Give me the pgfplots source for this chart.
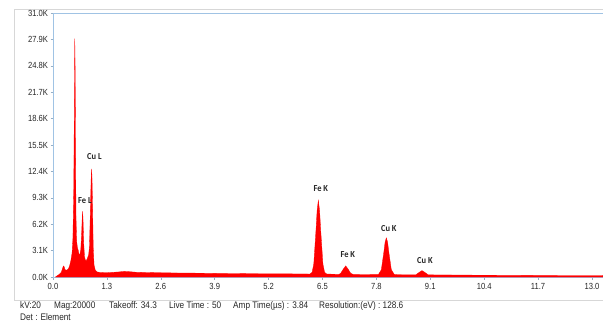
\documentclass[border=0pt]{standalone}
\usepackage{fontspec}
\setmainfont{Liberation Sans}[FakeStretch=0.86]
\newfontfamily\lab{Carlito}[FakeStretch=0.92]
\usepackage{pgfplots}
\pgfplotsset{compat=1.18}
\definecolor{axblue}{RGB}{160,195,228}
\definecolor{frm}{RGB}{215,215,215}
\begin{document}
\begin{tikzpicture}[x=1bp,y=1bp]
\useasboundingbox (0,0) rectangle (603,321);
\draw[frm, line width=0.9bp] (14,21) -- (14,311.5) -- (640,311.5);
\draw[frm, line width=0.9bp] (14,21) -- (640,21);
\begin{axis}[
  at={(53bp,44bp)}, anchor=south west,
  scale only axis, width=559.7bp, height=264bp,
  xmin=0, xmax=13.5, ymin=0, ymax=31,
  axis line style={axblue, line width=0.8bp},
  axis x line*=bottom, axis y line*=left,
  /pgf/number format/assume math mode=true,
  xtick={0,1.3,2.6,3.9,5.2,6.5,7.8,9.1,10.4,11.7,13.0},
  xticklabels={0.0,1.3,2.6,3.9,5.2,6.5,7.8,9.1,10.4,11.7,13.0},
  ytick={0,3.1,6.2,9.3,12.4,15.5,18.6,21.7,24.8,27.9,31.0},
  yticklabels={0.0K,3.1K,6.2K,9.3K,12.4K,15.5K,18.6K,21.7K,24.8K,27.9K,31.0K},
  tick align=outside, major tick length=2.5bp,
  tick style={axblue!70!gray, line width=0.5bp},
  ticklabel style={font=\fontsize{8.9}{10}\selectfont, text=black!85},
  yticklabel style={xshift=1bp},
  clip=false,
]
\draw[axblue, line width=0.8bp] (axis cs:0,31) -- (axis cs:13.5,31);
\addplot[draw=red, fill=red, line width=0.3bp] coordinates {
(0.06,0) (0.10,0.15) (0.15,0.30) (0.20,0.55) (0.23,1.0) (0.25,1.3) (0.27,1.2) (0.29,0.85)
(0.33,0.8) (0.37,0.95) (0.40,1.3) (0.43,1.9) (0.46,2.8) (0.48,4.5) (0.50,10) (0.515,20)
(0.525,28.0) (0.535,24) (0.545,14) (0.555,7) (0.57,4.2) (0.59,3.4) (0.61,3.1) (0.63,2.6)
(0.65,2.7) (0.67,3.2) (0.69,5.0) (0.705,7.0) (0.715,7.7) (0.725,6.6) (0.74,4.0) (0.76,2.4)
(0.78,2.0) (0.80,1.9) (0.83,2.2) (0.86,2.6) (0.88,3.6) (0.90,7.5) (0.92,11.5) (0.93,12.7)
(0.94,11.8) (0.955,8.0) (0.97,3.5) (0.99,1.4) (1.02,0.8) (1.06,0.6) (1.15,0.52) (1.3,0.5)
(1.45,0.55) (1.6,0.6) (1.72,0.66) (1.85,0.62) (2.0,0.56) (2.3,0.52) (2.6,0.5) (3.0,0.47)
(3.5,0.45) (4.0,0.42) (4.5,0.40) (5.0,0.38) (5.5,0.37) (6.0,0.36) (6.2,0.35) (6.25,0.56)
(6.29,1.52) (6.345,5.62) (6.37,7.79) (6.40,9.0) (6.43,7.79) (6.455,5.62) (6.51,1.52) (6.55,0.56)
(6.60,0.35) (6.75,0.33) (6.90,0.31) (6.94,0.44) (7.00,0.91) (7.06,1.3) (7.12,0.91) (7.18,0.44)
(7.24,0.30) (7.5,0.29) (7.85,0.30) (7.92,0.86) (7.98,2.92) (8.01,4.09) (8.04,4.6) (8.07,4.09)
(8.10,2.92) (8.16,0.86) (8.23,0.31) (8.30,0.27) (8.5,0.26) (8.75,0.25) (8.77,0.32) (8.835,0.555)
(8.90,0.75) (8.965,0.555) (9.03,0.32) (9.05,0.25) (9.5,0.24) (10.0,0.22) (10.5,0.21) (11.0,0.20)
(11.5,0.19) (12.0,0.18) (12.5,0.17) (13.0,0.17) (13.5,0.16)
} \closedcycle;
\begin{scope}[every node/.style={font=\lab\bfseries\fontsize{9.2}{10}\selectfont, text=black!85}]
\node at (axis cs:1.00,14.1) {Cu L};
\node at (axis cs:0.77,9.0) {Fe L};
\node at (axis cs:6.46,10.4) {Fe K};
\node at (axis cs:7.11,2.6) {Fe K};
\node at (axis cs:8.10,5.75) {Cu K};
\node at (axis cs:8.97,1.9) {Cu K};
\end{scope}
\end{axis}
\begin{scope}[every node/.style={font=\fontsize{9.6}{11}\selectfont, text=black!85, anchor=base west, inner sep=0}]
\node at (20,13) {kV:20};
\node at (54,13) {Mag:20000};
\node at (109,13) {Takeoff: 34.3};
\node at (169,13) {Live Time : 50};
\node at (233,13) {Amp Time(µs) : 3.84};
\node at (319,13) {Resolution:(eV) : 128.6};
\node at (20,1) {Det : Element};
\end{scope}
\end{tikzpicture}
\end{document}
